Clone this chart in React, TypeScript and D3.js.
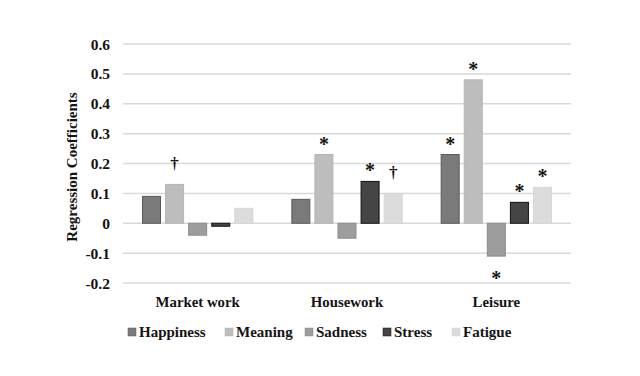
import React from "react";
import * as d3 from "d3";

const categories = ["Market work", "Housework", "Leisure"];
const seriesNames = ["Happiness", "Meaning", "Sadness", "Stress", "Fatigue"];
const happiness = [0.09, 0.08, 0.23];
const meaning = [0.13, 0.23, 0.48];
const sadness = [-0.04, -0.05, -0.11];
const stress = [-0.01, 0.14, 0.07];
const fatigue = [0.05, 0.1, 0.12];
const marks = [
  ["", "†", "", "", ""],
  ["", "*", "", "*", "†"],
  ["*", "*", "*", "*", "*"],
];
const yTicks = [-0.2, -0.1, 0, 0.1, 0.2, 0.3, 0.4, 0.5, 0.6];
const yTickLabels = ["-0.2", "-0.1", "0", "0.1", "0.2", "0.3", "0.4", "0.5", "0.6"];

const fills = ["#7a7a7a", "#bdbdbd", "#9d9d9d", "#454545", "#dcdcdc"];
const strokes = ["#5a5a5a", "#b5b5b5", "#8c8c8c", "#111111", "#d6d6d6"];

const W = 640;
const H = 376;
const FONT = "'Liberation Serif', 'Times New Roman', serif";
const TXT = "#141414";

export default function App() {
  const values = [happiness, meaning, sadness, stress, fatigue];
  const x0 = d3.scaleBand<string>().domain(categories).range([123, 571]).paddingInner(0).paddingOuter(0);
  const x1 = d3
    .scaleBand<string>()
    .domain(seriesNames)
    .range([19.5, x0.bandwidth() - 19.5])
    .paddingInner(0.22)
    .paddingOuter(0);
  const y = d3.scaleLinear().domain([-0.2, 0.6]).range([283, 44]);

  const legendX = [128, 225, 305, 383, 452];

  return (
    <svg
      width={W}
      height={H}
      style={{ position: "absolute", left: 0, top: 0, background: "#fff", display: "block" }}
      fontFamily={FONT}
    >
      <rect x={0} y={0} width={W} height={H} fill="#fff" />
      {yTicks.map((t, i) => (
        <g key={t}>
          <line x1={123} x2={571} y1={y(t)} y2={y(t)} stroke="#d9d9d9" strokeWidth={1.5} />
          <text
            x={110}
            y={y(t)}
            textAnchor="end"
            dominantBaseline="central"
            fontSize={15.5}
            fontWeight="bold"
            fill={TXT}
          >
            {yTickLabels[i]}
          </text>
        </g>
      ))}
      <text
        transform={`translate(72,167) rotate(-90)`}
        textAnchor="middle"
        dominantBaseline="central"
        fontSize={15}
        fontWeight="bold"
        fill={TXT}
      >
        Regression Coefficients
      </text>
      {categories.map((c, ci) => (
        <g key={c} transform={`translate(${x0(c)},0)`}>
          {seriesNames.map((s, si) => {
            const v = values[si][ci];
            const top = y(Math.max(0, v));
            const h = Math.abs(y(v) - y(0));
            const bx = x1(s)!;
            const bw = x1.bandwidth();
            const m = marks[ci][si];
            return (
              <g key={s}>
                <rect
                  x={bx}
                  y={top}
                  width={bw}
                  height={Math.max(h, 1.5)}
                  fill={fills[si]}
                  stroke={strokes[si]}
                  strokeWidth={1}
                />
                {m && (
                  <text
                    x={bx + bw / 2}
                    y={v >= 0 ? y(v) - (m === "†" ? 21 : 15) : y(v) + 18}
                    textAnchor="middle"
                    dominantBaseline="central"
                    fontSize={m === "†" ? 17 : 20}
                    fontWeight="bold"
                    fill={TXT}
                    dy={m === "*" ? 4 : 0}
                  >
                    {m}
                  </text>
                )}
              </g>
            );
          })}
          <text
            x={x0.bandwidth() / 2}
            y={302}
            textAnchor="middle"
            dominantBaseline="central"
            fontSize={14.8}
            fontWeight="bold"
            fill={TXT}
          >
            {c}
          </text>
        </g>
      ))}
      {seriesNames.map((s, si) => (
        <g key={s} transform={`translate(${legendX[si]},332)`}>
          <rect x={0} y={-4} width={8} height={8} fill={fills[si]} stroke={strokes[si]} strokeWidth={0.5} />
          <text x={11} y={0} dominantBaseline="central" fontSize={15} fontWeight="bold" fill={TXT}>
            {s}
          </text>
        </g>
      ))}
    </svg>
  );
}
